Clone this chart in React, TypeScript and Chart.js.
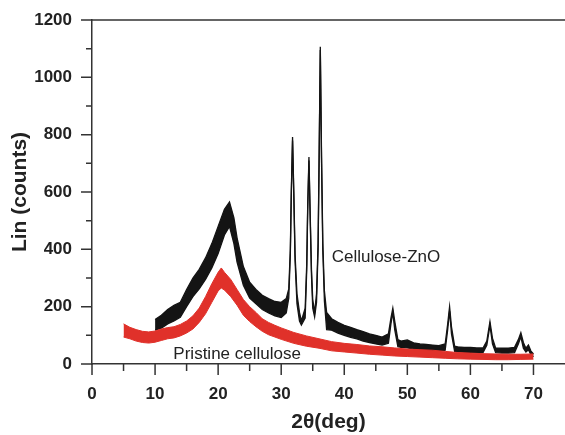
import React, { useEffect, useRef } from "react";
import { Chart, registerables } from "chart.js";

Chart.register(...registerables);

// Pristine cellulose: band (upper/lower envelope of the noisy trace)
const redX = [5, 6, 7, 8, 9, 10, 11, 12, 13, 14, 15, 16, 17, 18, 19, 20, 20.5, 21, 22, 23, 24, 25, 26, 27, 28, 29, 30, 32, 34, 36, 38, 40, 42, 44, 46, 48, 50, 52, 54, 56, 58, 60, 62, 64, 66, 68, 70];
const redUpper = [140, 128, 120, 114, 112, 115, 122, 127, 130, 138, 150, 168, 195, 235, 280, 320, 335, 320, 295, 260, 225, 200, 180, 158, 145, 135, 126, 110, 98, 88, 78, 72, 68, 63, 60, 56, 52, 50, 48, 44, 40, 38, 36, 35, 34, 34, 35];
const redLower = [94, 88, 80, 75, 73, 76, 82, 88, 91, 98, 108, 122, 145, 175, 215, 255, 265, 258, 235, 205, 170, 148, 130, 114, 102, 94, 86, 72, 62, 55, 46, 42, 38, 34, 31, 28, 26, 24, 22, 20, 18, 17, 16, 15, 15, 16, 17];

// Cellulose-ZnO: band (upper/lower envelope) incl. ZnO peaks
const blackX = [10, 11, 12, 13, 14, 15, 16, 17, 18, 19, 20, 21, 21.8, 22.5, 23, 24, 25, 26, 27, 28, 29, 30, 30.8, 31.2, 31.45, 31.6, 31.8, 32.0, 32.2, 32.5, 32.9, 33.2, 33.8, 34.05, 34.2, 34.4, 34.6, 34.8, 35.0, 35.3, 35.6, 35.85, 36.0, 36.2, 36.4, 36.6, 36.85, 37.2, 38, 39, 40, 41, 42, 43, 44, 45, 46, 47, 47.4, 47.7, 48.0, 48.5, 49, 50, 51, 52, 53, 54, 55, 56, 56.4, 56.7, 57.0, 57.5, 58, 59, 60, 61, 62, 62.6, 63.1, 63.5, 64, 65, 66, 67, 67.6, 68.0, 68.4, 68.8, 69.2, 69.6, 70];
const blackUpper = [155, 170, 190, 205, 215, 260, 300, 330, 370, 420, 480, 540, 565, 510, 440, 340, 285, 260, 240, 228, 218, 215, 228, 262, 400, 600, 792, 600, 380, 245, 180, 150, 195, 350, 550, 722, 520, 330, 225, 180, 245, 420, 700, 1107, 720, 420, 255, 180, 158, 145, 135, 128, 120, 113, 105, 100, 94, 105, 160, 195, 150, 85, 80, 84, 74, 70, 68, 66, 64, 70, 140, 200, 130, 62, 60, 58, 58, 56, 56, 80, 148, 90, 56, 55, 55, 58, 85, 109, 75, 55, 66, 45, 35];
const blackLower = [118, 125, 140, 150, 163, 200, 235, 262, 295, 335, 385, 450, 480, 420, 355, 275, 230, 210, 190, 178, 168, 162, 178, 230, 385, 585, 780, 585, 360, 210, 150, 136, 160, 330, 535, 710, 505, 310, 195, 164, 215, 400, 685, 1095, 700, 395, 220, 120, 118, 108, 100, 93, 88, 80, 75, 70, 66, 72, 140, 180, 120, 60, 58, 56, 52, 50, 48, 45, 44, 48, 120, 185, 105, 44, 42, 41, 40, 40, 40, 65, 135, 70, 40, 38, 38, 40, 70, 95, 55, 42, 50, 32, 25];

const xMajorTicks = [0, 10, 20, 30, 40, 50, 60, 70];
const xMinorTicks = [5, 15, 25, 35, 45, 55, 65];
const yMajorTicks = [0, 200, 400, 600, 800, 1000, 1200];
const yMinorTicks = [100, 300, 500, 700, 900, 1100];

const RED = "#e0312a";
const BLACK = "#141414";
const AXIS = "#333333";
const FONT = "'Liberation Sans', Arial, Helvetica, sans-serif";

const toPts = (xs: number[], ys: number[]) => xs.map((x, i) => ({ x, y: ys[i] }));

const axisPlugin = {
  id: "axisDecor",
  afterDraw(chart: any) {
    const { ctx, chartArea } = chart;
    const xs = chart.scales.x;
    const ys = chart.scales.y;
    ctx.save();
    ctx.strokeStyle = AXIS;
    ctx.lineWidth = 1.5;
    ctx.beginPath();
    yMajorTicks.forEach((v) => {
      const py = ys.getPixelForValue(v);
      ctx.moveTo(chartArea.left - 11, py);
      ctx.lineTo(chartArea.left, py);
    });
    yMinorTicks.forEach((v) => {
      const py = ys.getPixelForValue(v);
      ctx.moveTo(chartArea.left - 6, py);
      ctx.lineTo(chartArea.left, py);
    });
    xMajorTicks.forEach((v) => {
      const px = xs.getPixelForValue(v);
      ctx.moveTo(px, chartArea.bottom);
      ctx.lineTo(px, chartArea.bottom + 11);
    });
    xMinorTicks.forEach((v) => {
      const px = xs.getPixelForValue(v);
      ctx.moveTo(px, chartArea.bottom);
      ctx.lineTo(px, chartArea.bottom + 7);
    });
    // top frame line at 1200
    const top = ys.getPixelForValue(1200);
    ctx.moveTo(chartArea.left - 11, top);
    ctx.lineTo(chart.width, top);
    ctx.stroke();

    ctx.fillStyle = "#222";
    ctx.font = `17px ${FONT}`;
    ctx.textAlign = "left";
    ctx.textBaseline = "alphabetic";
    ctx.fillText("Cellulose-ZnO", xs.getPixelForValue(38.0), ys.getPixelForValue(356));
    ctx.fillText("Pristine cellulose", xs.getPixelForValue(12.9), ys.getPixelForValue(17));
    ctx.restore();
  },
};

export default function App() {
  const ref = useRef<HTMLCanvasElement | null>(null);
  useEffect(() => {
    if (!ref.current) return;
    Chart.defaults.font.family = FONT;
    const chart = new Chart(ref.current, {
      type: "line",
      data: {
        datasets: [
          {
            label: "Pristine cellulose (upper)",
            data: toPts(redX, redUpper),
            borderColor: RED,
            backgroundColor: RED,
            borderWidth: 1,
            pointRadius: 0,
            fill: "+1",
            tension: 0,
          },
          {
            label: "Pristine cellulose (lower)",
            data: toPts(redX, redLower),
            borderColor: RED,
            backgroundColor: RED,
            borderWidth: 1,
            pointRadius: 0,
            fill: false,
            tension: 0,
          },
          {
            label: "Cellulose-ZnO (upper)",
            data: toPts(blackX, blackUpper),
            borderColor: BLACK,
            backgroundColor: BLACK,
            borderWidth: 1.3,
            pointRadius: 0,
            fill: "+1",
            tension: 0,
          },
          {
            label: "Cellulose-ZnO (lower)",
            data: toPts(blackX, blackLower),
            borderColor: BLACK,
            backgroundColor: BLACK,
            borderWidth: 1.3,
            pointRadius: 0,
            fill: false,
            tension: 0,
          },
        ],
      },
      options: {
        animation: false,
        responsive: true,
        maintainAspectRatio: false,
        layout: { padding: { top: 20, right: 0, left: 0, bottom: 0 } },
        plugins: { legend: { display: false }, tooltip: { enabled: false } },
        scales: {
          x: {
            type: "linear",
            min: 0,
            max: 75,
            grid: { display: false, drawTicks: false },
            border: { display: true, color: AXIS, width: 1.5 },
            ticks: {
              stepSize: 10,
              padding: 20,
              color: "#222",
              font: { size: 17, weight: "bold" },
              maxRotation: 0,
              callback: (v: any) => (Number(v) <= 70 && Number(v) % 10 === 0 ? String(v) : ""),
            },
            title: {
              display: true,
              text: "2θ(deg)",
              color: "#222",
              font: { size: 21, weight: "bold" },
              padding: { top: 0, bottom: 0 },
            },
            afterFit: (s: any) => {
              s.height = 71;
              s.paddingLeft = 0;
              s.paddingRight = 0;
            },
          },
          y: {
            type: "linear",
            min: 0,
            max: 1200,
            grid: { display: false, drawTicks: false },
            border: { display: true, color: AXIS, width: 1.5 },
            ticks: {
              stepSize: 200,
              padding: 20,
              color: "#222",
              font: { size: 17, weight: "bold" },
              callback: (v: any) => String(v),
            },
            title: {
              display: true,
              text: "Lin (counts)",
              color: "#222",
              font: { size: 21, weight: "bold" },
              padding: { top: 8, bottom: 0 },
            },
            afterFit: (s: any) => {
              s.width = 92;
              s.paddingTop = 0;
              s.paddingBottom = 0;
            },
          },
        },
      },
      plugins: [axisPlugin],
    });
    return () => chart.destroy();
  }, []);
  return (
    <div style={{ position: "absolute", left: 0, top: 0, width: 565, height: 435, background: "#fff" }}>
      <canvas ref={ref} />
    </div>
  );
}
